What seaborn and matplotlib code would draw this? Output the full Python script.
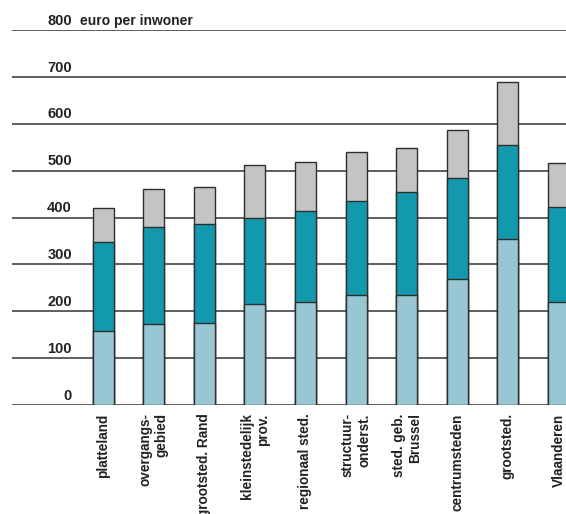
import pandas as pd
import numpy as np
from matplotlib import pyplot as plt
from matplotlib import font_manager
import seaborn as sns

# regions (x-axis), labels wrap like the original
regions = ['platteland', 'overgangs-\ngebied', 'grootsted. Rand', 'kleinstedelijk\nprov.',
           'regionaal sted.', 'structuur-\nonderst.', 'sted. geb.\nBrussel', 'centrumsteden',
           'grootsted.', 'Vlaanderen']
# three stacked parts, euro per inwoner
part_low = [158, 173, 175, 216, 220, 234, 235, 269, 354, 220]
part_mid = [190, 206, 212, 182, 194, 201, 219, 215, 200, 202]
part_top = [72, 81, 78, 114, 104, 105, 94, 102, 135, 94]
yticks = [0, 100, 200, 300, 400, 500, 600, 700, 800]

sns.set_theme(style="white")
names = [f.name for f in font_manager.fontManager.ttflist]
fam = 'Liberation Sans Narrow' if 'Liberation Sans Narrow' in names else 'Liberation Sans'
plt.rcParams['font.family'] = [fam, 'DejaVu Sans']

df = pd.DataFrame({'regio': regions, 'low': part_low, 'mid': part_mid, 'top': part_top})
df['c_low'] = df['low']
df['c_mid'] = df['low'] + df['mid']
df['c_top'] = df['c_mid'] + df['top']

fig = plt.figure(figsize=(5.66, 5.14), dpi=100)
ax = fig.add_axes([12/566, 109/514, 554/566, 375/514])

for col, color in [('c_top', '#c3c4c6'), ('c_mid', '#1399ad'), ('c_low', '#99c6d3')]:
    sns.barplot(data=df, x='regio', y=col, color=color, width=0.415, ax=ax,
                edgecolor='#2e2e2e', linewidth=1.0, saturation=1, zorder=3)

ax.set_ylim(0, 800)
ax.set_xlim(-1.8, 9.15)
ax.set_yticks(yticks)
ax.set_yticklabels([])
ax.tick_params(axis='y', length=0)
ax.yaxis.grid(True, color='#333333', linewidth=1.1, zorder=0)
ax.set_axisbelow(True)
for s in ax.spines.values():
    s.set_visible(False)
ax.set_xlabel('')
ax.set_ylabel('')

# y labels sit above the gridlines
for v in yticks:
    ax.text(0.108, v + 5, str(v), transform=ax.get_yaxis_transform(), ha='right', va='bottom',
            fontsize=10.5, fontweight='bold', color='#222222')
ax.text(0.122, 805, 'euro per inwoner', transform=ax.get_yaxis_transform(), ha='left', va='bottom',
        fontsize=10, fontweight='bold', color='#222222')

ax.set_xticks(range(len(regions)))
ax.set_xticklabels(regions, rotation=90, fontsize=9.8, fontweight='bold', color='#222222',
                   va='top', ha='center', multialignment='right')
ax.tick_params(axis='x', length=0, pad=6)

fig.savefig('out.png', dpi=100)
